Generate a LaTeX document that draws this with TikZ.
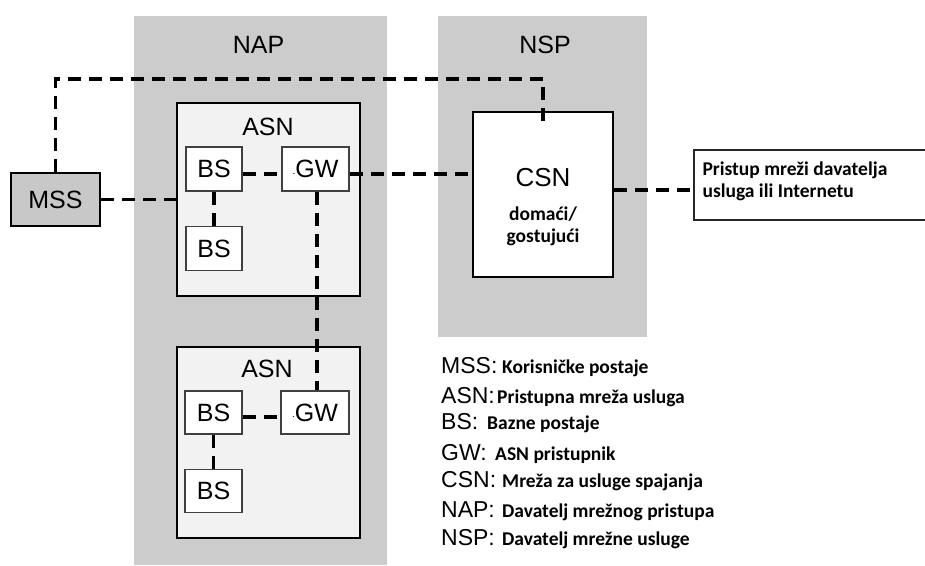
\documentclass[tikz,border=0pt]{standalone}
\usepackage{fontspec}
\setmainfont{Liberation Sans}
\newfontfamily\descfont{Carlito}
\newcommand{\gwdot}{\raisebox{0.25ex}{\fontsize{10}{10}\selectfont.}}
\begin{document}
\begin{tikzpicture}[x=1pt,y=-1pt,
  panel/.style={fill=panelgray, draw=none},
  lbl/.style={font=\fontsize{25}{28}\selectfont},
  desc/.style={font=\descfont\bfseries\fontsize{19.5}{22}\selectfont},
  asnbox/.style={draw=black, line width=2.6pt, fill=asnfill, inner sep=0pt},
  smallbox/.style={draw=black!75, line width=1.6pt, fill=white, inner sep=0pt, font=\fontsize{25}{28}\selectfont},
  link/.style={draw=black, line width=3.2pt, dash pattern=on 13pt off 8pt}
]
\definecolor{panelgray}{RGB}{204,204,204}
\definecolor{asnfill}{RGB}{242,242,242}
\definecolor{mssfill}{RGB}{200,200,200}
\useasboundingbox (0,0) rectangle (925,565);
\path[clip] (0,0) rectangle (925,565);
\fill[white] (0,0) rectangle (925,565);
% panels
\fill[panel] (134,16) rectangle (387,565);
\fill[panel] (438,16) rectangle (647,337);
\node[lbl] (naplbl) at (258.5,45) {NAP};
\node[lbl] (nsplbl) at (545,45) {NSP};
% MSS
\node[draw=black, line width=2.6pt, fill=mssfill, minimum width=89pt, minimum height=53pt, inner sep=0pt, lbl] (mss) at (55.5,199.5) {MSS};
% ASN 1
\node[asnbox, minimum width=183pt, minimum height=193pt] (asn1) at (268.5,199.5) {};
\node[lbl] (asn1lbl) at (268,127) {ASN};
\node[smallbox, minimum width=56pt, minimum height=44pt] (bs1) at (214,169) {BS};
\node[smallbox, minimum width=56pt, minimum height=44pt] (bs2) at (214,248.5) {BS};
\node[smallbox, minimum width=67pt, minimum height=44pt] (gw1) at (315.5,169) {\gwdot GW};
% ASN 2
\node[asnbox, minimum width=183pt, minimum height=191pt] (asn2) at (268.5,442.5) {};
\node[lbl] (asn2lbl) at (267,369) {ASN};
\node[smallbox, minimum width=57pt, minimum height=43pt] (bs3) at (213.5,412.5) {BS};
\node[smallbox, minimum width=57pt, minimum height=43pt] (bs4) at (213.5,491) {BS};
\node[smallbox, minimum width=68pt, minimum height=43pt] (gw2) at (315,412.5) {\gwdot GW};
% CSN
\node[draw=black, line width=2.6pt, fill=white, minimum width=140pt, minimum height=165pt, inner sep=0pt] (csn) at (543,194.5) {};
\node[font=\fontsize{26}{29}\selectfont] (csnlbl) at (543,178) {CSN};
\node[desc, align=center] (csntxt) at (543,226) {domaći/\\gostujući};
% Internet box (open on the right, runs off the picture)
\node[fill=white, minimum width=260pt, minimum height=70pt, inner sep=0pt] (inet) at (824,185) {};
\draw[black!85, line width=1.5pt] (inet.north east) -- (inet.north west) -- (inet.south west) -- (inet.south east);
\node[desc, align=left, anchor=west] (inettxt) at (699,181) {Pristup mreži davatelja\\usluga ili Internetu};
% connectors
\coordinate (topy) at (0,79);
\draw[link] (mss.north) |- (topy -| csn.north) -- ([yshift=-10pt]csn.north);
\draw[link] (mss.east) -- (asn1.west);
\draw[link] ([yshift=-5pt]bs1.east) -- ([yshift=-5pt]gw1.west);
\draw[link] (bs1.south) -- (bs2.north);
\draw[link] ([yshift=-5pt]gw1.east) -- ([yshift=-5pt]gw1.east -| csn.west);
\draw[link] ([yshift=4.5pt]csn.east) -- ([yshift=4.5pt]csn.east -| inet.west);
\draw[link] ([xshift=1.5pt]gw1.south) -- ([xshift=2pt]gw2.north);
\draw[link] ([yshift=-4.5pt]bs3.east) -- ([yshift=-4.5pt]gw2.west);
\draw[link] (bs3.south) -- (bs4.north);
% legend
\foreach \ab/\tx/\by/\dx [count=\i] in {
  MSS:/Korisničke postaje/373/502,
  ASN:/Pristupna mreža usluga/403/497,
  BS:/Bazne postaje/429/487,
  GW:/ASN pristupnik/460/495,
  CSN:/Mreža za usluge spajanja/487/502,
  NAP:/Davatelj mrežnog pristupa/517/502,
  NSP:/Davatelj mrežne usluge/545/502}{
  \node[anchor=base west, inner sep=0pt, font=\fontsize{23}{25}\selectfont] (lab\i) at (441,\by) {\ab};
  \node[desc, anchor=base west, inner sep=0pt] (dsc\i) at (\dx,\by) {\tx};
}
\end{tikzpicture}
\end{document}
